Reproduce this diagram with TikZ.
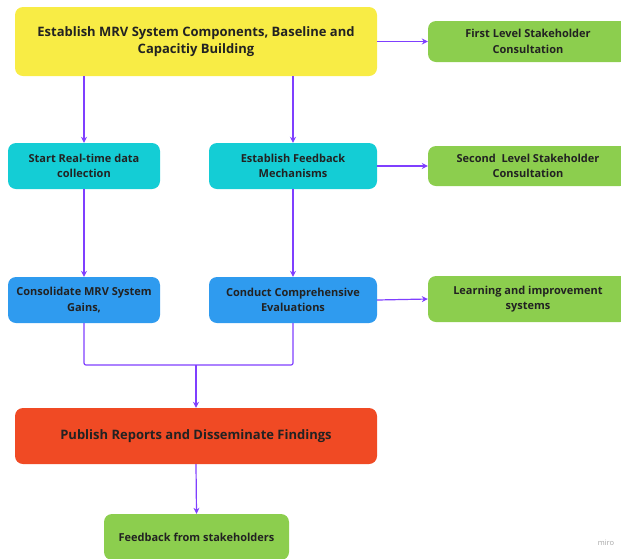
\documentclass[tikz,border=0pt]{standalone}
\usepackage{fontspec}
\setmainfont{Open Sans}
\usetikzlibrary{arrows.meta}

\definecolor{stageyellow}{HTML}{F8EC45}
\definecolor{stagecyan}{HTML}{14CDD5}
\definecolor{stageblue}{HTML}{2F9BEF}
\definecolor{stagered}{HTML}{F04A24}
\definecolor{stagegreen}{HTML}{8CCE4E}
\definecolor{flowpurple}{HTML}{7F3FFF}
\definecolor{textdark}{HTML}{222222}

\tikzset{
  stage/.style={rounded corners=8pt, align=center, inner sep=0pt, text=textdark,
    font=\bfseries\fontsize{11}{15.5}\selectfont},
  bigstage/.style={stage, minimum width=362pt, font=\bfseries\fontsize{13}{17}\selectfont},
  smallstage/.style={stage, minimum width=152pt, minimum height=46pt},
  sidestage/.style={stage, fill=stagegreen, minimum width=200pt},
  flow/.style={draw=flowpurple, line width=1.2pt, -{Stealth[length=6pt,width=6pt]}},
  flowline/.style={draw=flowpurple, line width=1.2pt, rounded corners=2pt},
}

\begin{document}
\begin{tikzpicture}[x=1pt,y=-1pt]
  \useasboundingbox (0,0) rectangle (621,558);
  % first row
  \node[bigstage, fill=stageyellow, minimum height=69pt] (base) at (196,41.5)
    {Establish MRV System Components, Baseline and\\Capacitiy Building};
  \node[sidestage, minimum height=41pt] (first) at (528,41.5)
    {First Level Stakeholder\\Consultation};
  % second row
  \node[smallstage, fill=stagecyan] (realtime) at (84,166)
    {Start Real-time data\\collection};
  \node[smallstage, fill=stagecyan, minimum width=168pt] (feedback) at (293,166)
    {Establish Feedback\\Mechanisms};
  \node[sidestage, minimum height=40pt] (second) at (528,166)
    {Second~ Level Stakeholder\\Consultation};
  % third row
  \node[smallstage, fill=stageblue] (consol) at (84,300)
    {Consolidate MRV System\\Gains,};
  \node[smallstage, fill=stageblue, minimum width=168pt] (evals) at (293,300)
    {Conduct Comprehensive\\Evaluations};
  \node[sidestage, minimum height=46pt] (learning) at (528,299)
    {Learning and improvement\\systems};
  % reports and feedback
  \node[bigstage, fill=stagered, minimum height=56pt] (publish) at (196,436)
    {Publish Reports and Disseminate Findings};
  \node[stage, fill=stagegreen, minimum width=185pt, minimum height=46pt] (stakefb) at (196.5,537)
    {Feedback from stakeholders};
  \node[text=black!35, font=\fontsize{7.5}{8}\selectfont] (miro) at (606,543) {miro};
  \coordinate (join) at (196,365);

  % connectors
  \draw[flow] (base.east) -- (first.west);
  \draw[flow] (base.south -| realtime) -- (realtime.north);
  \draw[flow] (base.south -| feedback) -- (feedback.north);
  \draw[flow] (feedback.east) -- (second.west);
  \draw[flow] (realtime.south) -- (consol.north);
  \draw[flow] (feedback.south) -- (evals.north);
  \draw[flow] (evals.east) -- (learning.west);
  \draw[flowline] (consol.south) |- (join) -| (evals.south);
  \draw[flow] (join) -- (publish.north);
  \draw[flow] (publish.south) -- (stakefb.north);
\end{tikzpicture}
\end{document}
